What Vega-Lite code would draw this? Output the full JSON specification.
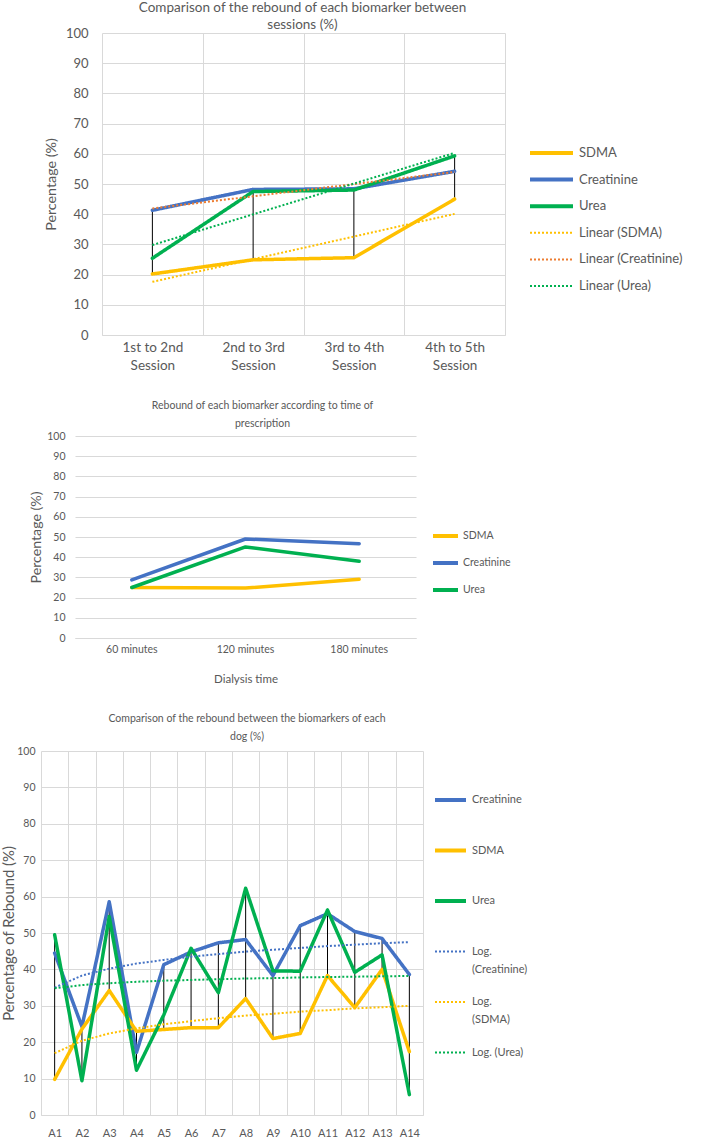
{
  "$schema": "https://vega.github.io/schema/vega-lite/v6.json",
  "background": "white",
  "padding": 0,
  "spacing": 28,
  "resolve": {"scale": {"color": "independent", "strokeDash": "independent"}, "legend": {"color": "independent", "strokeDash": "independent"}},
  "config": {
    "view": {"stroke": null},
    "axis": {"labelColor": "#595959", "titleColor": "#595959", "gridColor": "#d9d9d9", "domainColor": "#d9d9d9", "ticks": false, "titleFontWeight": "normal"},
    "legend": {"labelColor": "#595959", "padding": 0},
    "title": {"color": "#595959", "fontWeight": "normal"}
  },
  "datasets": {
    "sessions": [
      {"session": "1st to 2nd Session", "series": "SDMA", "value": 20.2},
      {"session": "2nd to 3rd Session", "series": "SDMA", "value": 24.9},
      {"session": "3rd to 4th Session", "series": "SDMA", "value": 25.6},
      {"session": "4th to 5th Session", "series": "SDMA", "value": 45.0},
      {"session": "1st to 2nd Session", "series": "Creatinine", "value": 41.3},
      {"session": "2nd to 3rd Session", "series": "Creatinine", "value": 48.2},
      {"session": "3rd to 4th Session", "series": "Creatinine", "value": 48.4},
      {"session": "4th to 5th Session", "series": "Creatinine", "value": 54.2},
      {"session": "1st to 2nd Session", "series": "Urea", "value": 25.4},
      {"session": "2nd to 3rd Session", "series": "Urea", "value": 47.5},
      {"session": "3rd to 4th Session", "series": "Urea", "value": 48.0},
      {"session": "4th to 5th Session", "series": "Urea", "value": 59.3}
    ],
    "sessionTrend": [
      {"session": "1st to 2nd Session", "series": "Linear (SDMA)", "value": 17.6},
      {"session": "4th to 5th Session", "series": "Linear (SDMA)", "value": 40.1},
      {"session": "1st to 2nd Session", "series": "Linear (Creatinine)", "value": 41.9},
      {"session": "4th to 5th Session", "series": "Linear (Creatinine)", "value": 54.0},
      {"session": "1st to 2nd Session", "series": "Linear (Urea)", "value": 29.8},
      {"session": "4th to 5th Session", "series": "Linear (Urea)", "value": 60.3}
    ],
    "times": [
      {"time": "60 minutes", "series": "SDMA", "value": 25.0},
      {"time": "120 minutes", "series": "SDMA", "value": 24.7},
      {"time": "180 minutes", "series": "SDMA", "value": 29.1},
      {"time": "60 minutes", "series": "Creatinine", "value": 28.8},
      {"time": "120 minutes", "series": "Creatinine", "value": 49.0},
      {"time": "180 minutes", "series": "Creatinine", "value": 46.7},
      {"time": "60 minutes", "series": "Urea", "value": 25.0},
      {"time": "120 minutes", "series": "Urea", "value": 45.1},
      {"time": "180 minutes", "series": "Urea", "value": 38.0}
    ],
    "dogs": [
      {"dog": "A1", "series": "Creatinine", "value": 44.5},
      {"dog": "A2", "series": "Creatinine", "value": 24.3},
      {"dog": "A3", "series": "Creatinine", "value": 58.6},
      {"dog": "A4", "series": "Creatinine", "value": 17.2},
      {"dog": "A5", "series": "Creatinine", "value": 41.3},
      {"dog": "A6", "series": "Creatinine", "value": 44.8},
      {"dog": "A7", "series": "Creatinine", "value": 47.3},
      {"dog": "A8", "series": "Creatinine", "value": 48.2},
      {"dog": "A9", "series": "Creatinine", "value": 38.3},
      {"dog": "A10", "series": "Creatinine", "value": 52.0},
      {"dog": "A11", "series": "Creatinine", "value": 55.3},
      {"dog": "A12", "series": "Creatinine", "value": 50.4},
      {"dog": "A13", "series": "Creatinine", "value": 48.5},
      {"dog": "A14", "series": "Creatinine", "value": 38.6},
      {"dog": "A1", "series": "SDMA", "value": 9.8},
      {"dog": "A2", "series": "SDMA", "value": 23.6},
      {"dog": "A3", "series": "SDMA", "value": 34.2},
      {"dog": "A4", "series": "SDMA", "value": 23.0},
      {"dog": "A5", "series": "SDMA", "value": 23.5},
      {"dog": "A6", "series": "SDMA", "value": 24.0},
      {"dog": "A7", "series": "SDMA", "value": 24.0},
      {"dog": "A8", "series": "SDMA", "value": 32.0},
      {"dog": "A9", "series": "SDMA", "value": 21.0},
      {"dog": "A10", "series": "SDMA", "value": 22.4},
      {"dog": "A11", "series": "SDMA", "value": 38.3},
      {"dog": "A12", "series": "SDMA", "value": 29.5},
      {"dog": "A13", "series": "SDMA", "value": 40.0},
      {"dog": "A14", "series": "SDMA", "value": 17.4},
      {"dog": "A1", "series": "Urea", "value": 49.5},
      {"dog": "A2", "series": "Urea", "value": 9.4},
      {"dog": "A3", "series": "Urea", "value": 54.5},
      {"dog": "A4", "series": "Urea", "value": 12.3},
      {"dog": "A5", "series": "Urea", "value": 27.5},
      {"dog": "A6", "series": "Urea", "value": 45.8},
      {"dog": "A7", "series": "Urea", "value": 33.6},
      {"dog": "A8", "series": "Urea", "value": 62.3},
      {"dog": "A9", "series": "Urea", "value": 39.6},
      {"dog": "A10", "series": "Urea", "value": 39.5},
      {"dog": "A11", "series": "Urea", "value": 56.3},
      {"dog": "A12", "series": "Urea", "value": 39.2},
      {"dog": "A13", "series": "Urea", "value": 44.0},
      {"dog": "A14", "series": "Urea", "value": 5.6}
    ],
    "dogTrend": [
      {"dog": "A1", "series": "Log. (Creatinine)", "value": 35.0},
      {"dog": "A2", "series": "Log. (Creatinine)", "value": 38.3},
      {"dog": "A3", "series": "Log. (Creatinine)", "value": 40.2},
      {"dog": "A4", "series": "Log. (Creatinine)", "value": 41.6},
      {"dog": "A5", "series": "Log. (Creatinine)", "value": 42.6},
      {"dog": "A6", "series": "Log. (Creatinine)", "value": 43.5},
      {"dog": "A7", "series": "Log. (Creatinine)", "value": 44.2},
      {"dog": "A8", "series": "Log. (Creatinine)", "value": 44.9},
      {"dog": "A9", "series": "Log. (Creatinine)", "value": 45.4},
      {"dog": "A10", "series": "Log. (Creatinine)", "value": 45.9},
      {"dog": "A11", "series": "Log. (Creatinine)", "value": 46.4},
      {"dog": "A12", "series": "Log. (Creatinine)", "value": 46.8},
      {"dog": "A13", "series": "Log. (Creatinine)", "value": 47.2},
      {"dog": "A14", "series": "Log. (Creatinine)", "value": 47.5},
      {"dog": "A1", "series": "Log. (SDMA)", "value": 17.0},
      {"dog": "A2", "series": "Log. (SDMA)", "value": 20.4},
      {"dog": "A3", "series": "Log. (SDMA)", "value": 22.4},
      {"dog": "A4", "series": "Log. (SDMA)", "value": 23.8},
      {"dog": "A5", "series": "Log. (SDMA)", "value": 24.9},
      {"dog": "A6", "series": "Log. (SDMA)", "value": 25.8},
      {"dog": "A7", "series": "Log. (SDMA)", "value": 26.6},
      {"dog": "A8", "series": "Log. (SDMA)", "value": 27.3},
      {"dog": "A9", "series": "Log. (SDMA)", "value": 27.8},
      {"dog": "A10", "series": "Log. (SDMA)", "value": 28.4},
      {"dog": "A11", "series": "Log. (SDMA)", "value": 28.8},
      {"dog": "A12", "series": "Log. (SDMA)", "value": 29.3},
      {"dog": "A13", "series": "Log. (SDMA)", "value": 29.6},
      {"dog": "A14", "series": "Log. (SDMA)", "value": 30.0},
      {"dog": "A1", "series": "Log. (Urea)", "value": 34.8},
      {"dog": "A2", "series": "Log. (Urea)", "value": 35.7},
      {"dog": "A3", "series": "Log. (Urea)", "value": 36.2},
      {"dog": "A4", "series": "Log. (Urea)", "value": 36.6},
      {"dog": "A5", "series": "Log. (Urea)", "value": 36.9},
      {"dog": "A6", "series": "Log. (Urea)", "value": 37.1},
      {"dog": "A7", "series": "Log. (Urea)", "value": 37.3},
      {"dog": "A8", "series": "Log. (Urea)", "value": 37.5},
      {"dog": "A9", "series": "Log. (Urea)", "value": 37.6},
      {"dog": "A10", "series": "Log. (Urea)", "value": 37.8},
      {"dog": "A11", "series": "Log. (Urea)", "value": 37.9},
      {"dog": "A12", "series": "Log. (Urea)", "value": 38.0},
      {"dog": "A13", "series": "Log. (Urea)", "value": 38.1},
      {"dog": "A14", "series": "Log. (Urea)", "value": 38.2}
    ]
  },
  "vconcat": [
    {
      "spacing": 0,
      "hconcat": [
        {"width": 44, "height": 1, "data": {"values": []}, "mark": "point"},
        {
          "width": 403,
          "height": 302,
          "title": {"text": ["Comparison of the rebound of each biomarker between", "sessions (%)"], "font": "Lato", "fontSize": 13.5, "lineHeight": 17, "anchor": "middle", "frame": "group", "offset": -4, "dx": -1},
          "layer": [
            {
              "data": {"name": "sessions"},
              "mark": {"type": "rule", "color": "#000000", "strokeWidth": 1},
              "encoding": {
                "x": {"field": "session", "type": "nominal", "title": null,
                  "scale": {"type": "band", "domain": ["1st to 2nd Session", "2nd to 3rd Session", "3rd to 4th Session", "4th to 5th Session"], "paddingInner": 0, "paddingOuter": 0},
                  "axis": {"labelAngle": 0, "tickBand": "extent", "grid": true, "labelFont": "Lato", "labelFontSize": 13.5, "labelLineHeight": 18, "labelPadding": 5, "labelExpr": "length(datum.label) > 0 ? [replace(datum.label, ' Session', ''), 'Session'] : ''"}},
                "y": {"aggregate": "min", "field": "value", "type": "quantitative", "title": "Percentage (%)",
                  "scale": {"domain": [0, 100], "nice": false},
                  "axis": {"values": [0, 10, 20, 30, 40, 50, 60, 70, 80, 90, 100], "grid": true, "domain": false, "labelFont": "Lato", "labelFontSize": 13, "labelPadding": 14, "titleFont": "Lato", "titleFontSize": 14.3, "titlePadding": 7}},
                "y2": {"aggregate": "max", "field": "value"}
              }
            },
            {
              "data": {"name": "sessions"},
              "mark": {"type": "line", "strokeWidth": 3.5, "strokeJoin": "round", "strokeCap": "round"},
              "encoding": {
                "x": {"field": "session", "type": "nominal", "title": null},
                "y": {"field": "value", "type": "quantitative", "title": "Percentage (%)",
                  "axis": {"values": [0, 10, 20, 30, 40, 50, 60, 70, 80, 90, 100], "grid": true, "domain": false, "labelFont": "Lato", "labelFontSize": 13, "labelPadding": 14, "titleFont": "Lato", "titleFontSize": 14.3, "titlePadding": 7}},
                "color": {"field": "series", "type": "nominal",
                  "scale": {"domain": ["SDMA", "Creatinine", "Urea", "Linear (SDMA)", "Linear (Creatinine)", "Linear (Urea)"], "range": ["#FFC000", "#4472C4", "#00B050", "#FFC000", "#ED7D31", "#00B050"]},
                  "legend": {"title": null, "orient": "none", "legendX": 545, "legendY": 113.5, "symbolType": "stroke", "symbolSize": 1849, "symbolStrokeWidth": 4, "labelFont": "Lato", "labelFontSize": 13, "labelOffset": 21, "gridAlign": "all", "rowPadding": 9.6,
                    "encode": {"symbols": {"update": {"strokeWidth": {"signal": "indexof(['SDMA','Creatinine','Urea'], datum.value) >= 0 ? 4 : 2"}}}}}},
                "strokeDash": {"field": "series", "type": "nominal",
                  "scale": {"domain": ["SDMA", "Creatinine", "Urea", "Linear (SDMA)", "Linear (Creatinine)", "Linear (Urea)"], "range": [[1, 0], [1, 0], [1, 0], [2, 2], [2, 2], [2, 2]]}}
              }
            },
            {
              "data": {"name": "sessionTrend"},
              "mark": {"type": "line", "strokeWidth": 2},
              "encoding": {
                "x": {"field": "session", "type": "nominal", "title": null},
                "y": {"field": "value", "type": "quantitative", "title": "Percentage (%)",
                  "axis": {"values": [0, 10, 20, 30, 40, 50, 60, 70, 80, 90, 100], "grid": true, "domain": false, "labelFont": "Lato", "labelFontSize": 13, "labelPadding": 14, "titleFont": "Lato", "titleFontSize": 14.3, "titlePadding": 7}},
                "color": {"field": "series", "type": "nominal"},
                "strokeDash": {"field": "series", "type": "nominal"}
              }
            }
          ]
        }
      ]
    },
    {
      "spacing": 0,
      "hconcat": [
        {"width": 29, "height": 1, "data": {"values": []}, "mark": "point"},
        {
          "width": 341,
          "height": 202,
          "title": {"text": ["Rebound of each biomarker according to time of", "prescription"], "font": "Lato", "fontSize": 10.5, "lineHeight": 18, "anchor": "middle", "frame": "group", "offset": 2, "dx": 17},
          "data": {"name": "times"},
          "mark": {"type": "line", "strokeWidth": 3.5, "strokeJoin": "round", "strokeCap": "round"},
          "encoding": {
            "x": {"field": "time", "type": "nominal", "title": "Dialysis time",
              "scale": {"type": "band", "domain": ["60 minutes", "120 minutes", "180 minutes"], "paddingInner": 0, "paddingOuter": 0},
              "axis": {"labelAngle": 0, "grid": false, "labelFont": "Lato", "labelFontSize": 10.5, "labelPadding": 6, "titleFont": "Lato", "titleFontSize": 11.5, "titlePadding": 19}},
            "y": {"field": "value", "type": "quantitative", "title": "Percentage (%)",
              "scale": {"domain": [0, 100], "nice": false},
              "axis": {"values": [0, 10, 20, 30, 40, 50, 60, 70, 80, 90, 100], "grid": true, "domain": false, "labelFont": "Lato", "labelFontSize": 10.5, "labelPadding": 10, "titleFont": "Lato", "titleFontSize": 14.2, "titlePadding": 3.5}},
            "color": {"field": "series", "type": "nominal",
              "scale": {"domain": ["SDMA", "Creatinine", "Urea"], "range": ["#FFC000", "#4472C4", "#00B050"]},
              "legend": {"title": null, "orient": "none", "legendX": 431, "legendY": 85.5, "symbolType": "stroke", "symbolSize": 625, "symbolStrokeWidth": 4, "labelFont": "Lato", "labelFontSize": 10.5, "labelOffset": 3, "rowPadding": 4}}
          }
        }
      ]
    },
    {
      "spacing": 0,
      "hconcat": [
        {"width": 1, "height": 1, "data": {"values": []}, "mark": "point"},
        {
          "width": 382,
          "height": 364,
          "title": {"text": ["Comparison of the rebound between the biomarkers of each", "dog (%)"], "font": "Lato", "fontSize": 10.5, "lineHeight": 18, "anchor": "middle", "frame": "group", "offset": 4, "dx": 15},
          "layer": [
            {
              "data": {"name": "dogs"},
              "mark": {"type": "rule", "color": "#000000", "strokeWidth": 1},
              "encoding": {
                "x": {"field": "dog", "type": "nominal", "title": null,
                  "scale": {"type": "band", "domain": ["A1", "A2", "A3", "A4", "A5", "A6", "A7", "A8", "A9", "A10", "A11", "A12", "A13", "A14"], "paddingInner": 0, "paddingOuter": 0},
                  "axis": {"labelAngle": 0, "tickBand": "extent", "grid": true, "labelFont": "Lato", "labelFontSize": 11, "labelPadding": 12}},
                "y": {"aggregate": "min", "field": "value", "type": "quantitative", "title": "Percentage of Rebound (%)",
                  "scale": {"domain": [0, 100], "nice": false},
                  "axis": {"values": [0, 10, 20, 30, 40, 50, 60, 70, 80, 90, 100], "grid": true, "domain": false, "labelFont": "Lato", "labelFontSize": 10.5, "labelPadding": 6, "titleFont": "Lato", "titleFontSize": 14.8, "titlePadding": 0}},
                "y2": {"aggregate": "max", "field": "value"}
              }
            },
            {
              "data": {"name": "dogs"},
              "mark": {"type": "line", "strokeWidth": 3.5, "strokeJoin": "round", "strokeCap": "round"},
              "encoding": {
                "x": {"field": "dog", "type": "nominal", "title": null},
                "y": {"field": "value", "type": "quantitative", "title": "Percentage of Rebound (%)",
                  "axis": {"values": [0, 10, 20, 30, 40, 50, 60, 70, 80, 90, 100], "grid": true, "domain": false, "labelFont": "Lato", "labelFontSize": 10.5, "labelPadding": 6, "titleFont": "Lato", "titleFontSize": 14.8, "titlePadding": 0}},
                "color": {"field": "series", "type": "nominal",
                  "scale": {"domain": ["Creatinine", "SDMA", "Urea", "Log. (Creatinine)", "Log. (SDMA)", "Log. (Urea)"], "range": ["#4472C4", "#FFC000", "#00B050", "#4472C4", "#FFC000", "#00B050"]},
                  "legend": {"title": null, "orient": "none", "legendX": 445, "legendY": 43.5, "symbolType": "stroke", "symbolSize": 961, "symbolStrokeWidth": 4, "labelFont": "Lato", "labelFontSize": 11, "labelOffset": 16, "gridAlign": "all", "rowPadding": 18.5,
                    "labelExpr": "datum.label == 'Log. (Creatinine)' ? ['Log.', '(Creatinine)'] : datum.label == 'Log. (SDMA)' ? ['Log.', '(SDMA)'] : datum.label",
                    "encode": {"symbols": {"update": {"strokeWidth": {"signal": "indexof(['Creatinine','SDMA','Urea'], datum.value) >= 0 ? 4 : 2"}}}, "labels": {"update": {"lineHeight": {"value": 18}}}}}},
                "strokeDash": {"field": "series", "type": "nominal",
                  "scale": {"domain": ["Creatinine", "SDMA", "Urea", "Log. (Creatinine)", "Log. (SDMA)", "Log. (Urea)"], "range": [[1, 0], [1, 0], [1, 0], [2, 2], [2, 2], [2, 2]]}}
              }
            },
            {
              "data": {"name": "dogTrend"},
              "mark": {"type": "line", "strokeWidth": 2},
              "encoding": {
                "x": {"field": "dog", "type": "nominal", "title": null},
                "y": {"field": "value", "type": "quantitative", "title": "Percentage of Rebound (%)",
                  "axis": {"values": [0, 10, 20, 30, 40, 50, 60, 70, 80, 90, 100], "grid": true, "domain": false, "labelFont": "Lato", "labelFontSize": 10.5, "labelPadding": 6, "titleFont": "Lato", "titleFontSize": 14.8, "titlePadding": 0}},
                "color": {"field": "series", "type": "nominal"},
                "strokeDash": {"field": "series", "type": "nominal"}
              }
            }
          ]
        }
      ]
    }
  ]
}
